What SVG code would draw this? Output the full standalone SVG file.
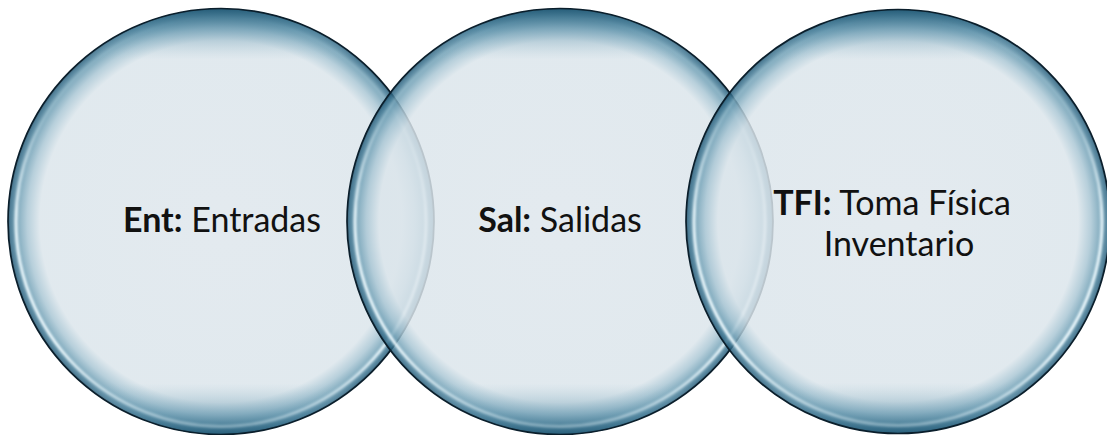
<svg xmlns="http://www.w3.org/2000/svg" width="1107" height="435" viewBox="0 0 1107 435">
  <defs>
    <radialGradient id="bubble" cx="50%" cy="50%" r="50%">
      <stop offset="0%" stop-color="#dee6ec"/>
      <stop offset="85%" stop-color="#dbe5eb"/>
      <stop offset="91%" stop-color="#a9c6d4"/>
      <stop offset="96%" stop-color="#6699b0"/>
      <stop offset="99%" stop-color="#2f6784"/>
      <stop offset="100%" stop-color="#173f56"/>
    </radialGradient>
    <linearGradient id="shade" x1="0" y1="0" x2="0" y2="1">
      <stop offset="0%" stop-color="#245c78" stop-opacity="0.9"/>
      <stop offset="5%" stop-color="#5289a3" stop-opacity="0.55"/>
      <stop offset="12%" stop-color="#9cbfcf" stop-opacity="0"/>
      <stop offset="88%" stop-color="#9cbfcf" stop-opacity="0"/>
      <stop offset="95%" stop-color="#5289a3" stop-opacity="0.5"/>
      <stop offset="100%" stop-color="#245c78" stop-opacity="0.85"/>
    </linearGradient>
    <linearGradient id="hl" x1="0" y1="0" x2="0" y2="1">
      <stop offset="0%" stop-color="#f0fbff" stop-opacity="0"/>
      <stop offset="25%" stop-color="#f0fbff" stop-opacity="0.2"/>
      <stop offset="50%" stop-color="#f0fbff" stop-opacity="0.9"/>
      <stop offset="80%" stop-color="#f0fbff" stop-opacity="0.95"/>
      <stop offset="100%" stop-color="#f0fbff" stop-opacity="0.35"/>
    </linearGradient>
    <filter id="blur" x="-5%" y="-5%" width="110%" height="110%">
      <feGaussianBlur stdDeviation="1.2"/>
    </filter>
  </defs>
  <style>
    .body { fill: url(#bubble); fill-opacity: 0.84; }
    .shade { fill: url(#shade); stroke: #0a1e2b; stroke-width: 1.7; }
    .shine { fill: none; stroke: url(#hl); stroke-width: 3; filter: url(#blur); }
    .lbl { font-family: Lato, "Open Sans", "Liberation Sans", sans-serif; font-size: 34px; fill: #111; text-anchor: middle; }
    .b { font-weight: bold; }
  </style>
  <rect width="1107" height="435" fill="#ffffff"/>
  <g id="circle-ent">
    <circle class="body" cx="221" cy="221.5" r="213"/>
    <circle class="shade" cx="221" cy="221.5" r="213"/>
    <circle class="shine" cx="221" cy="221.5" r="205"/>
    <text class="lbl" x="222" y="232"><tspan class="b">Ent:</tspan> Entradas</text>
  </g>
  <g id="circle-sal">
    <circle class="body" cx="560" cy="221.5" r="213"/>
    <circle class="shade" cx="560" cy="221.5" r="213"/>
    <circle class="shine" cx="560" cy="221.5" r="205"/>
    <text class="lbl" x="560" y="232"><tspan class="b">Sal:</tspan> Salidas</text>
  </g>
  <g id="circle-tfi">
    <circle class="body" cx="898" cy="221.5" r="212"/>
    <circle class="shade" cx="898" cy="221.5" r="212"/>
    <circle class="shine" cx="898" cy="221.5" r="204"/>
    <text class="lbl" x="892" y="215"><tspan class="b">TFI:</tspan> Toma Física</text>
    <text class="lbl" x="899" y="256">Inventario</text>
  </g>
  <g id="connectors"/>
</svg>
